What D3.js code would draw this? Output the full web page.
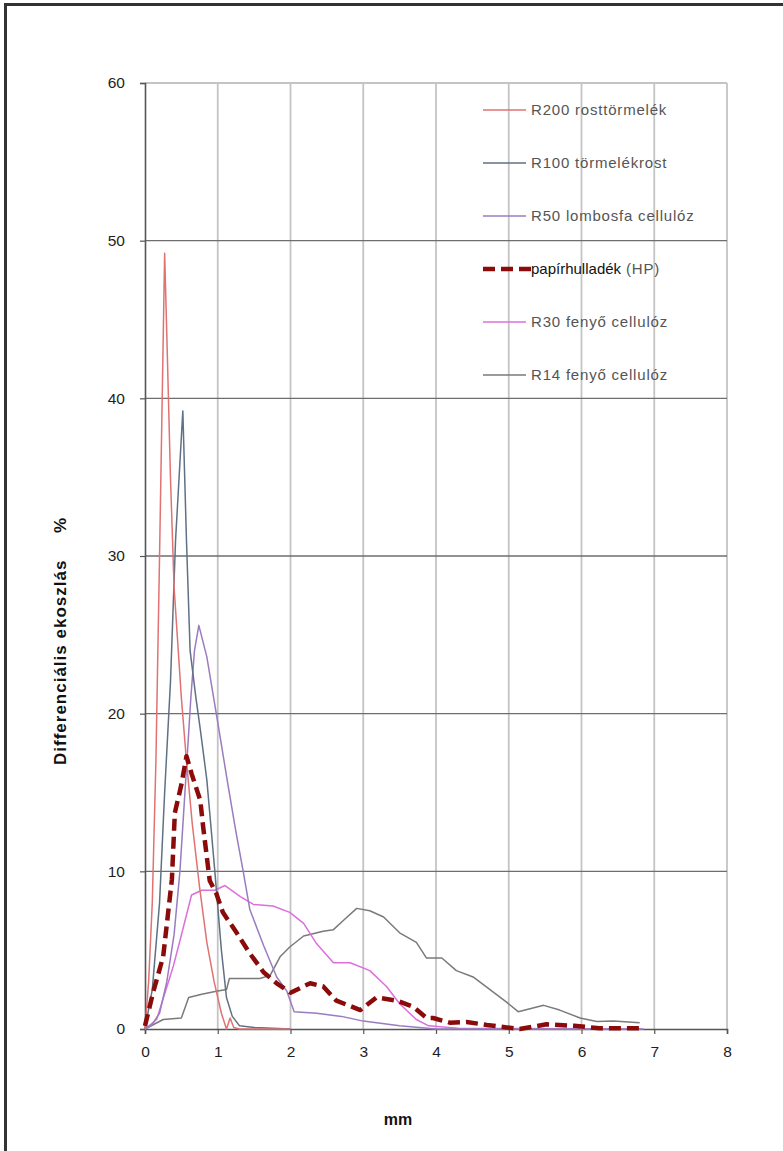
<!DOCTYPE html>
<html>
<head>
<meta charset="utf-8">
<script src="https://cdn.jsdelivr.net/npm/d3@7"></script>
<style>
  body { margin: 0; background: #fff; }
  svg { display: block; font-family: "Liberation Sans", Arial, sans-serif; }
</style>
</head>
<body>
<svg id="chart" width="783" height="1151"></svg>
<script>
// Series: [mm, %]
const r200 = [[0,0],[0.05,3],[0.1,8],[0.15,17],[0.2,30],[0.27,49.2],[0.3,44],[0.35,35],[0.4,28],[0.5,21],
  [0.57,17],[0.65,13],[0.75,9],[0.85,5.5],[0.95,3],[1.05,1],[1.12,0],[1.17,0.7],[1.22,0.1],[1.3,0],[2,0]];
const r100 = [[0,0],[0.1,2.5],[0.2,8],[0.27,15],[0.35,22],[0.42,31],[0.52,39.2],[0.57,31],[0.62,24],[0.7,21],
  [0.76,19],[0.85,15.8],[0.96,10],[1.05,5],[1.12,2],[1.2,0.8],[1.3,0.2],[1.5,0.1],[2,0]];
const r50 = [[0,0],[0.1,0.3],[0.2,1],[0.3,3],[0.4,6],[0.48,10],[0.56,15.8],[0.63,21],[0.68,24],[0.74,25.6],
  [0.85,23.6],[0.98,20],[1.14,15.5],[1.25,12.5],[1.35,10],[1.44,7.6],[1.63,5.3],[1.81,3.3],[1.95,2.4],
  [2.05,1.1],[2.36,1],[2.7,0.8],[3,0.5],[3.5,0.2],[4,0],[6.85,0]];
const hp = [[0,0.2],[0.11,2.3],[0.25,4.6],[0.37,9.5],[0.41,13.7],[0.5,15.5],[0.57,17.3],[0.64,16.2],[0.76,14.5],
  [0.8,12.8],[0.85,10.9],[0.89,9.4],[0.98,8.6],[1.07,7.4],[1.26,6.1],[1.44,4.8],[1.63,3.6],[1.81,2.9],
  [2.0,2.3],[2.27,2.9],[2.45,2.7],[2.63,1.8],[2.96,1.2],[3.18,2.0],[3.46,1.8],[3.69,1.4],[3.87,0.7],
  [3.96,0.7],[4.19,0.4],[4.42,0.45],[4.7,0.25],[4.97,0.1],[5.15,0],[5.52,0.3],[5.9,0.2],[6.25,0.05],[6.85,0.05]];
const r30 = [[0,0],[0.16,0.6],[0.39,4],[0.48,5.6],[0.64,8.5],[0.78,8.8],[0.96,8.8],[1.1,9.1],[1.31,8.4],
  [1.49,7.9],[1.76,7.8],[1.99,7.4],[2.18,6.7],[2.36,5.4],[2.59,4.2],[2.82,4.2],[3.09,3.7],[3.32,2.7],
  [3.5,1.6],[3.73,0.6],[3.9,0.2],[4.3,0.05],[6.85,0]];
const r14 = [[0,0],[0.25,0.6],[0.5,0.7],[0.6,2.0],[0.78,2.2],[0.98,2.4],[1.12,2.5],[1.16,3.2],[1.35,3.2],
  [1.58,3.2],[1.72,3.4],[1.86,4.6],[1.99,5.2],[2.18,5.9],[2.45,6.2],[2.59,6.3],[2.73,6.9],[2.91,7.65],
  [3.09,7.5],[3.28,7.1],[3.5,6.1],[3.73,5.5],[3.87,4.5],[4.08,4.5],[4.28,3.7],[4.51,3.3],[4.97,1.7],
  [5.13,1.1],[5.48,1.5],[5.7,1.2],[5.98,0.7],[6.21,0.47],[6.44,0.5],[6.8,0.4]];

const xTicks = [0,1,2,3,4,5,6,7,8];
const yTicks = [0,10,20,30,40,50,60];

const series = [
  { name: "R14 fenyő cellulóz", data: r14, color: "#7a7a7a", width: 1.5 },
  { name: "R30 fenyő cellulóz", data: r30, color: "#dd6fdd", width: 1.5 },
  { name: "R50 lombosfa cellulóz", data: r50, color: "#9a7cc0", width: 1.5 },
  { name: "R100 törmelékrost", data: r100, color: "#5f7184", width: 1.5 },
  { name: "R200 rosttörmelék", data: r200, color: "#e07272", width: 1.5 },
  { name: "papírhulladék (HP)", data: hp, color: "#8b0a0a", width: 4.5, dash: "12,6" }
];
// legend order as in the reference
const legendOrder = ["R200 rosttörmelék", "R100 törmelékrost", "R50 lombosfa cellulóz",
  "papírhulladék (HP)", "R30 fenyő cellulóz", "R14 fenyő cellulóz"];

const svg = d3.select("#chart");

// outer frame (runs off the right and bottom edges)
svg.append("rect")
  .attr("x", 5.5).attr("y", 4.5)
  .attr("width", 800).attr("height", 1200)
  .attr("fill", "none").attr("stroke", "#333").attr("stroke-width", 3);

const x = d3.scaleLinear().domain([0, 8]).range([145, 727]);
const y = d3.scaleLinear().domain([0, 60]).range([1029, 83]);

// vertical grid
svg.append("g")
  .selectAll("line")
  .data(xTicks.slice(1))
  .join("line")
  .attr("x1", d => x(d)).attr("x2", d => x(d))
  .attr("y1", y(60)).attr("y2", y(0))
  .attr("stroke", "#c4c4c4").attr("stroke-width", 1.8);

// horizontal grid
svg.append("g")
  .selectAll("line")
  .data(yTicks.slice(1))
  .join("line")
  .attr("x1", x(0)).attr("x2", x(8))
  .attr("y1", d => y(d)).attr("y2", d => y(d))
  .attr("stroke", d => d === 60 ? "#c4c4c4" : "#6e6e6e")
  .attr("stroke-width", d => d === 60 ? 1.8 : 1.4);

// axes
const xAxis = svg.append("g")
  .attr("transform", `translate(0,${y(0)})`)
  .call(d3.axisBottom(x).tickValues(xTicks).tickSize(5).tickPadding(12));
const yAxis = svg.append("g")
  .attr("transform", `translate(${x(0)},0)`)
  .call(d3.axisLeft(y).tickValues(yTicks).tickSize(5).tickPadding(15));

[xAxis, yAxis].forEach(g => {
  g.select(".domain").attr("stroke", "#555").attr("stroke-width", 1.6);
  g.selectAll(".tick line").attr("stroke", "#555").attr("stroke-width", 1.2);
  g.selectAll(".tick text")
    .attr("font-size", 15.5)
    .attr("fill", "#1e1e1e")
    .attr("font-family", "'Liberation Sans', Arial, sans-serif");
});

// lines
const line = d3.line().x(d => x(d[0])).y(d => y(d[1]));

svg.append("g")
  .selectAll("path")
  .data(series)
  .join("path")
  .attr("d", d => line(d.data))
  .attr("fill", "none")
  .attr("stroke", d => d.color)
  .attr("stroke-width", d => d.width)
  .attr("stroke-dasharray", d => d.dash || null)
  .attr("stroke-linejoin", "round");

// legend
const legend = svg.append("g");
const legendRows = legendOrder.map(n => series.find(s => s.name === n));
const legendY = d3.scalePoint().domain(legendOrder).range([110, 375]);

const item = legend.selectAll("g")
  .data(legendRows)
  .join("g")
  .attr("transform", d => `translate(0,${legendY(d.name)})`);

item.append("line")
  .attr("x1", 483).attr("x2", d => d.dash ? 531 : 526)
  .attr("y1", 0).attr("y2", 0)
  .attr("stroke", d => d.color)
  .attr("stroke-width", d => d.width)
  .attr("stroke-dasharray", d => d.dash ? "12,6" : null);

item.append("text")
  .attr("x", 531)
  .attr("dy", "0.35em")
  .attr("font-size", 15)
  .attr("letter-spacing", 0.8)
  .attr("fill", "#555")
  .each(function (d) {
    const t = d3.select(this);
    if (d.dash) {
      t.append("tspan").attr("fill", "#111").attr("letter-spacing", 0).text("papírhulladék");
      t.append("tspan").text(" (HP)");
    } else {
      t.text(d.name);
    }
  });

// axis titles
const yTitle = svg.append("text")
  .attr("transform", "translate(66,765) rotate(-90)")
  .attr("font-size", 17)
  .attr("font-weight", "bold")
  .attr("fill", "#111")
  .attr("letter-spacing", 1);
yTitle.append("tspan").text("Differenciális ekoszlás");
yTitle.append("tspan").attr("x", 232).text("%");

svg.append("text")
  .attr("x", 398).attr("y", 1125)
  .attr("text-anchor", "middle")
  .attr("font-size", 16)
  .attr("font-weight", "bold")
  .attr("fill", "#111")
  .text("mm");
</script>
</body>
</html>
